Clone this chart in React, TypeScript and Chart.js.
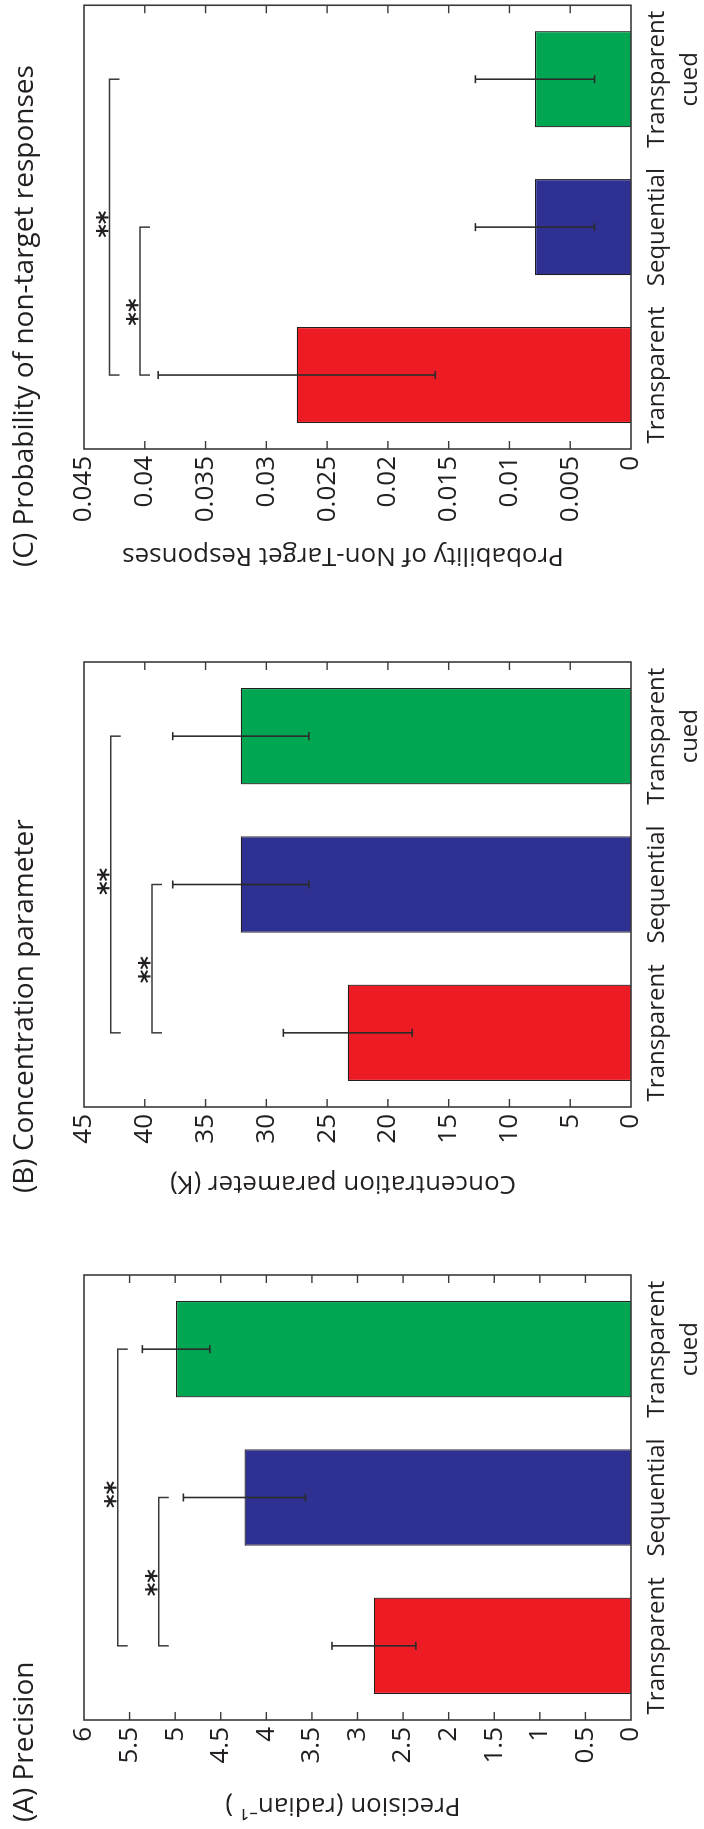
import React, { useEffect, useRef } from "react";
import { Chart, registerables } from "chart.js";

Chart.register(...registerables);
Chart.defaults.font.family = "'Open Sans', 'Noto Sans', sans-serif";

// ---------------- data ----------------
const categories: (string | string[])[] = ["Transparent", "Sequential", ["Transparent", "cued"]];
const barColors = ["#ED1C24", "#2E3192", "#00A651"];
const bracketPairs: [number, number][] = [[0, 1], [0, 2]];
const starLabels = ["**", "**"];

// (A) Precision
const precisionValues = [2.82, 4.24, 4.99];
const precisionErrors = [0.46, 0.67, 0.37];
const precisionTicks = [0, 0.5, 1, 1.5, 2, 2.5, 3, 3.5, 4, 4.5, 5, 5.5, 6];
const precisionTickLabels = ["0", "0.5", "1", "1.5", "2", "2.5", "3", "3.5", "4", "4.5", "5", "5.5", "6"];
const precisionBracketLevels = [5.18, 5.63];

// (B) Concentration parameter
const concentrationValues = [23.3, 32.1, 32.1];
const concentrationErrors = [5.3, 5.6, 5.6];
const concentrationTicks = [0, 5, 10, 15, 20, 25, 30, 35, 40, 45];
const concentrationTickLabels = ["0", "5", "10", "15", "20", "25", "30", "35", "40", "45"];
const concentrationBracketLevels = [39.4, 42.8];

// (C) Probability of non-target responses
const probabilityValues = [0.0275, 0.0079, 0.0079];
const probabilityErrors = [0.0114, 0.0049, 0.0049];
const probabilityTicks = [0, 0.005, 0.01, 0.015, 0.02, 0.025, 0.03, 0.035, 0.04, 0.045];
const probabilityTickLabels = ["0", "0.005", "0.01", "0.015", "0.02", "0.025", "0.03", "0.035", "0.04", "0.045"];
const probabilityBracketLevels = [0.0404, 0.0429];

// ---------------- style / layout (unrotated frame 1829 x 704) ----------------
const FRAME_W = 1829;
const FRAME_H = 704;
const BOX_TOP = 84;
const BOX_BOTTOM = 631;
const TEXT = "#231F20";
const AXIS = "#3a3a3a";
const STAR_SHIFT = [-11, 3];
const AXIS_TITLE_CENTER = 343;

type Panel = {
  key: string;
  title: string;
  axisTitle: string;
  values: number[];
  errors: number[];
  ticks: number[];
  tickLabels: string[];
  bracketLevels: number[];
  left: number;
  width: number;
  boxLeft: number;
  boxRight: number;
  titleX: number;
  axisTitleBaseline: number;
};

const panels: Panel[] = [
  {
    key: "A",
    title: "(A) Precision",
    axisTitle: "Precision (radian\u207B\u00B9 )",
    values: precisionValues,
    errors: precisionErrors,
    ticks: precisionTicks,
    tickLabels: precisionTickLabels,
    bracketLevels: precisionBracketLevels,
    left: 0,
    width: 600,
    boxLeft: 109,
    boxRight: 554,
    titleX: 7,
    axisTitleBaseline: 31,
  },
  {
    key: "B",
    title: "(B) Concentration parameter",
    axisTitle: "Concentration parameter (K)",
    values: concentrationValues,
    errors: concentrationErrors,
    ticks: concentrationTicks,
    tickLabels: concentrationTickLabels,
    bracketLevels: concentrationBracketLevels,
    left: 600,
    width: 640,
    boxLeft: 722,
    boxRight: 1167,
    titleX: 636,
    axisTitleBaseline: 653,
  },
  {
    key: "C",
    title: "(C) Probability of non-target responses",
    axisTitle: "Probability of Non-Target Responses",
    values: probabilityValues,
    errors: probabilityErrors,
    ticks: probabilityTicks,
    tickLabels: probabilityTickLabels,
    bracketLevels: probabilityBracketLevels,
    left: 1240,
    width: 589,
    boxLeft: 1380,
    boxRight: 1825,
    titleX: 1262,
    axisTitleBaseline: 1281,
  },
];

function makeAnnotations(p: Panel) {
  return {
    id: "annot" + p.key,
    afterDatasetsDraw(chart: any) {
      const { ctx, chartArea: a } = chart;
      const xs = chart.scales.x;
      const ys = chart.scales.y;
      const seg = (x1: number, y1: number, x2: number, y2: number) => {
        ctx.beginPath();
        ctx.moveTo(x1, y1);
        ctx.lineTo(x2, y2);
        ctx.stroke();
      };
      ctx.save();
      // axes box
      ctx.strokeStyle = AXIS;
      ctx.lineWidth = 1.6;
      ctx.strokeRect(a.left, a.top, a.right - a.left, a.bottom - a.top);
      // inward tick marks on both value sides
      ctx.lineWidth = 1.4;
      p.ticks.slice(1, -1).forEach((v) => {
        const py = ys.getPixelForValue(v);
        seg(a.left, py, a.left + 8, py);
        seg(a.right - 8, py, a.right, py);
      });
      // error bars
      ctx.strokeStyle = "#2b2b2b";
      ctx.lineWidth = 1.6;
      p.values.forEach((v, i) => {
        const px = xs.getPixelForValue(i);
        const hi = ys.getPixelForValue(v + p.errors[i]);
        const lo = ys.getPixelForValue(v - p.errors[i]);
        seg(px, hi, px, lo);
        seg(px - 4, hi, px + 4, hi);
        seg(px - 4, lo, px + 4, lo);
      });
      // significance brackets
      ctx.strokeStyle = AXIS;
      ctx.lineWidth = 1.5;
      bracketPairs.forEach(([i0, i1], k) => {
        const x0 = xs.getPixelForValue(i0);
        const x1 = xs.getPixelForValue(i1);
        const ly = ys.getPixelForValue(p.bracketLevels[k]);
        ctx.beginPath();
        ctx.moveTo(x0, ly + 10);
        ctx.lineTo(x0, ly);
        ctx.lineTo(x1, ly);
        ctx.lineTo(x1, ly + 10);
        ctx.stroke();
        ctx.fillStyle = TEXT;
        ctx.font = "bold 26px 'DejaVu Sans'";
        ctx.textAlign = "center";
        ctx.textBaseline = "alphabetic";
        ctx.fillText(starLabels[k], (x0 + x1) / 2 + STAR_SHIFT[k], ly + 6);
      });
      // panel title
      ctx.fillStyle = TEXT;
      ctx.font = "28px 'Open Sans'";
      ctx.textAlign = "left";
      ctx.textBaseline = "alphabetic";
      ctx.fillText(p.title, p.titleX - p.left, 33);
      // value-axis title
      ctx.font = "26px 'Open Sans'";
      ctx.translate(p.axisTitleBaseline - p.left, AXIS_TITLE_CENTER);
      ctx.rotate(-Math.PI / 2);
      ctx.textAlign = "center";
      ctx.fillText(p.axisTitle, 0, 0);
      ctx.restore();
    },
  };
}

function PanelChart({ p }: { p: Panel }) {
  const ref = useRef<HTMLCanvasElement | null>(null);
  useEffect(() => {
    if (!ref.current) return;
    const chart = new Chart(ref.current, {
      type: "bar",
      data: {
        labels: categories as any,
        datasets: [
          {
            data: p.values,
            backgroundColor: barColors,
            borderColor: "#231F20",
            borderWidth: 1.2,
            barPercentage: 0.65,
            categoryPercentage: 1,
          },
        ],
      },
      options: {
        animation: false,
        responsive: false,
        maintainAspectRatio: false,
        devicePixelRatio: 1,
        layout: {
          padding: { left: 0, right: p.left + p.width - p.boxRight, top: BOX_TOP, bottom: 0 },
        },
        plugins: {
          legend: { display: false },
          tooltip: { enabled: false },
          title: { display: false },
        },
        scales: {
          x: {
            type: "category",
            grid: { display: false, drawTicks: false },
            border: { display: false },
            ticks: {
              color: TEXT,
              font: { size: 24, lineHeight: 1.375 },
              padding: 10,
              maxRotation: 0,
              minRotation: 0,
              autoSkip: false,
            },
            afterFit: (s: any) => {
              s.height = FRAME_H - BOX_BOTTOM;
            },
          },
          y: {
            type: "linear",
            min: p.ticks[0],
            max: p.ticks[p.ticks.length - 1],
            grid: { display: false, drawTicks: false },
            border: { display: false },
            ticks: {
              color: TEXT,
              font: { size: 26 },
              padding: 7,
              callback: (_v: any, i: number) => p.tickLabels[i],
            },
            afterBuildTicks: (s: any) => {
              s.ticks = p.ticks.map((v) => ({ value: v }));
            },
            afterFit: (s: any) => {
              s.width = p.boxLeft - p.left;
            },
          },
        },
      } as any,
      plugins: [makeAnnotations(p)],
    });
    return () => chart.destroy();
  }, [p]);
  return (
    <canvas
      ref={ref}
      width={p.width}
      height={FRAME_H}
      style={{ position: "absolute", left: p.left, top: 0, width: p.width, height: FRAME_H }}
    />
  );
}

export default function App() {
  return (
    <div
      style={{
        position: "absolute",
        left: 0,
        top: 0,
        width: 704,
        height: FRAME_W,
        overflow: "hidden",
        background: "#ffffff",
      }}
    >
      <div
        style={{
          position: "absolute",
          left: 0,
          top: 0,
          width: FRAME_W,
          height: FRAME_H,
          transformOrigin: "0 0",
          transform: `translateY(${FRAME_W}px) rotate(-90deg)`,
        }}
      >
        {panels.map((p) => (
          <PanelChart key={p.key} p={p} />
        ))}
      </div>
    </div>
  );
}
